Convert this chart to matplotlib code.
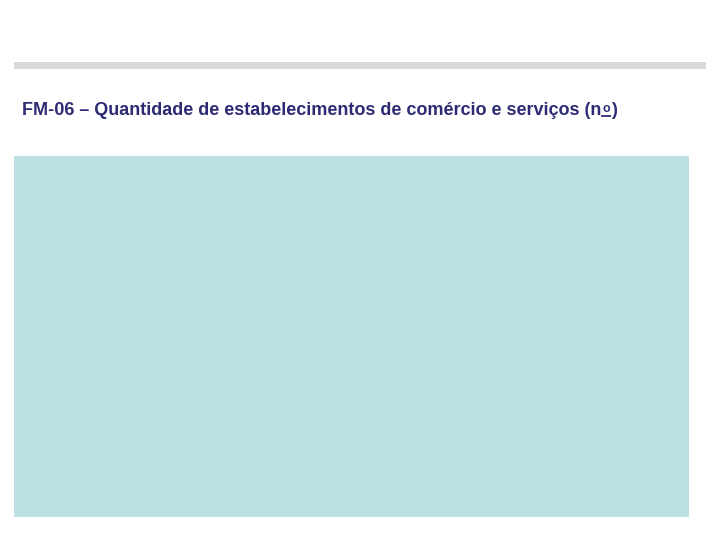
import matplotlib
matplotlib.use('Agg')
import matplotlib.pyplot as plt
from matplotlib.patches import Rectangle
from matplotlib.lines import Line2D

titulo = 'FM-06 – Quantidade de estabelecimentos de comércio e serviços (n'
ordinal = 'o'
fecha = ')'
cor_titulo = '#2D2B74'
cor_painel = '#BCE0E3'
cor_faixa = '#D9D9D9'
fonte = ['Liberation Sans', 'DejaVu Sans']

fig = plt.figure(figsize=(7.2, 5.4), dpi=100)
W, H = 720, 540

# faixa cinza no topo
fig.patches.append(Rectangle((14 / W, 1 - 69 / H), (706 - 14) / W, 7 / H,
                             transform=fig.transFigure, color=cor_faixa, lw=0))

# titulo, com o "nº" sublinhado montado a mao
base = 1 - 115 / H
r = fig.canvas.get_renderer()
t1 = fig.text(22 / W, base, titulo, fontsize=13, fontweight='bold',
              family=fonte, color=cor_titulo, va='baseline')
x1 = t1.get_window_extent(r).x1 / W
t2 = fig.text(x1 + 1 / W, base + 3 / H, ordinal, fontsize=9, fontweight='bold',
              family=fonte, color=cor_titulo, va='baseline')
x2 = t2.get_window_extent(r).x1 / W
fig.lines.append(Line2D([x1 + 1 / W, x2], [base - 0.5 / H, base - 0.5 / H],
                        transform=fig.transFigure, color=cor_titulo, lw=1.3))
fig.text(x2 + 1 / W, base, fecha, fontsize=13, fontweight='bold',
         family=fonte, color=cor_titulo, va='baseline')

# area do grafico (vazia)
ax = fig.add_axes([14 / W, 1 - 517 / H, (689 - 14) / W, (517 - 156) / H])
ax.set_facecolor(cor_painel)
ax.set_xticks([])
ax.set_yticks([])
for s in ax.spines.values():
    s.set_visible(False)

fig.savefig('out.png', dpi=100)
